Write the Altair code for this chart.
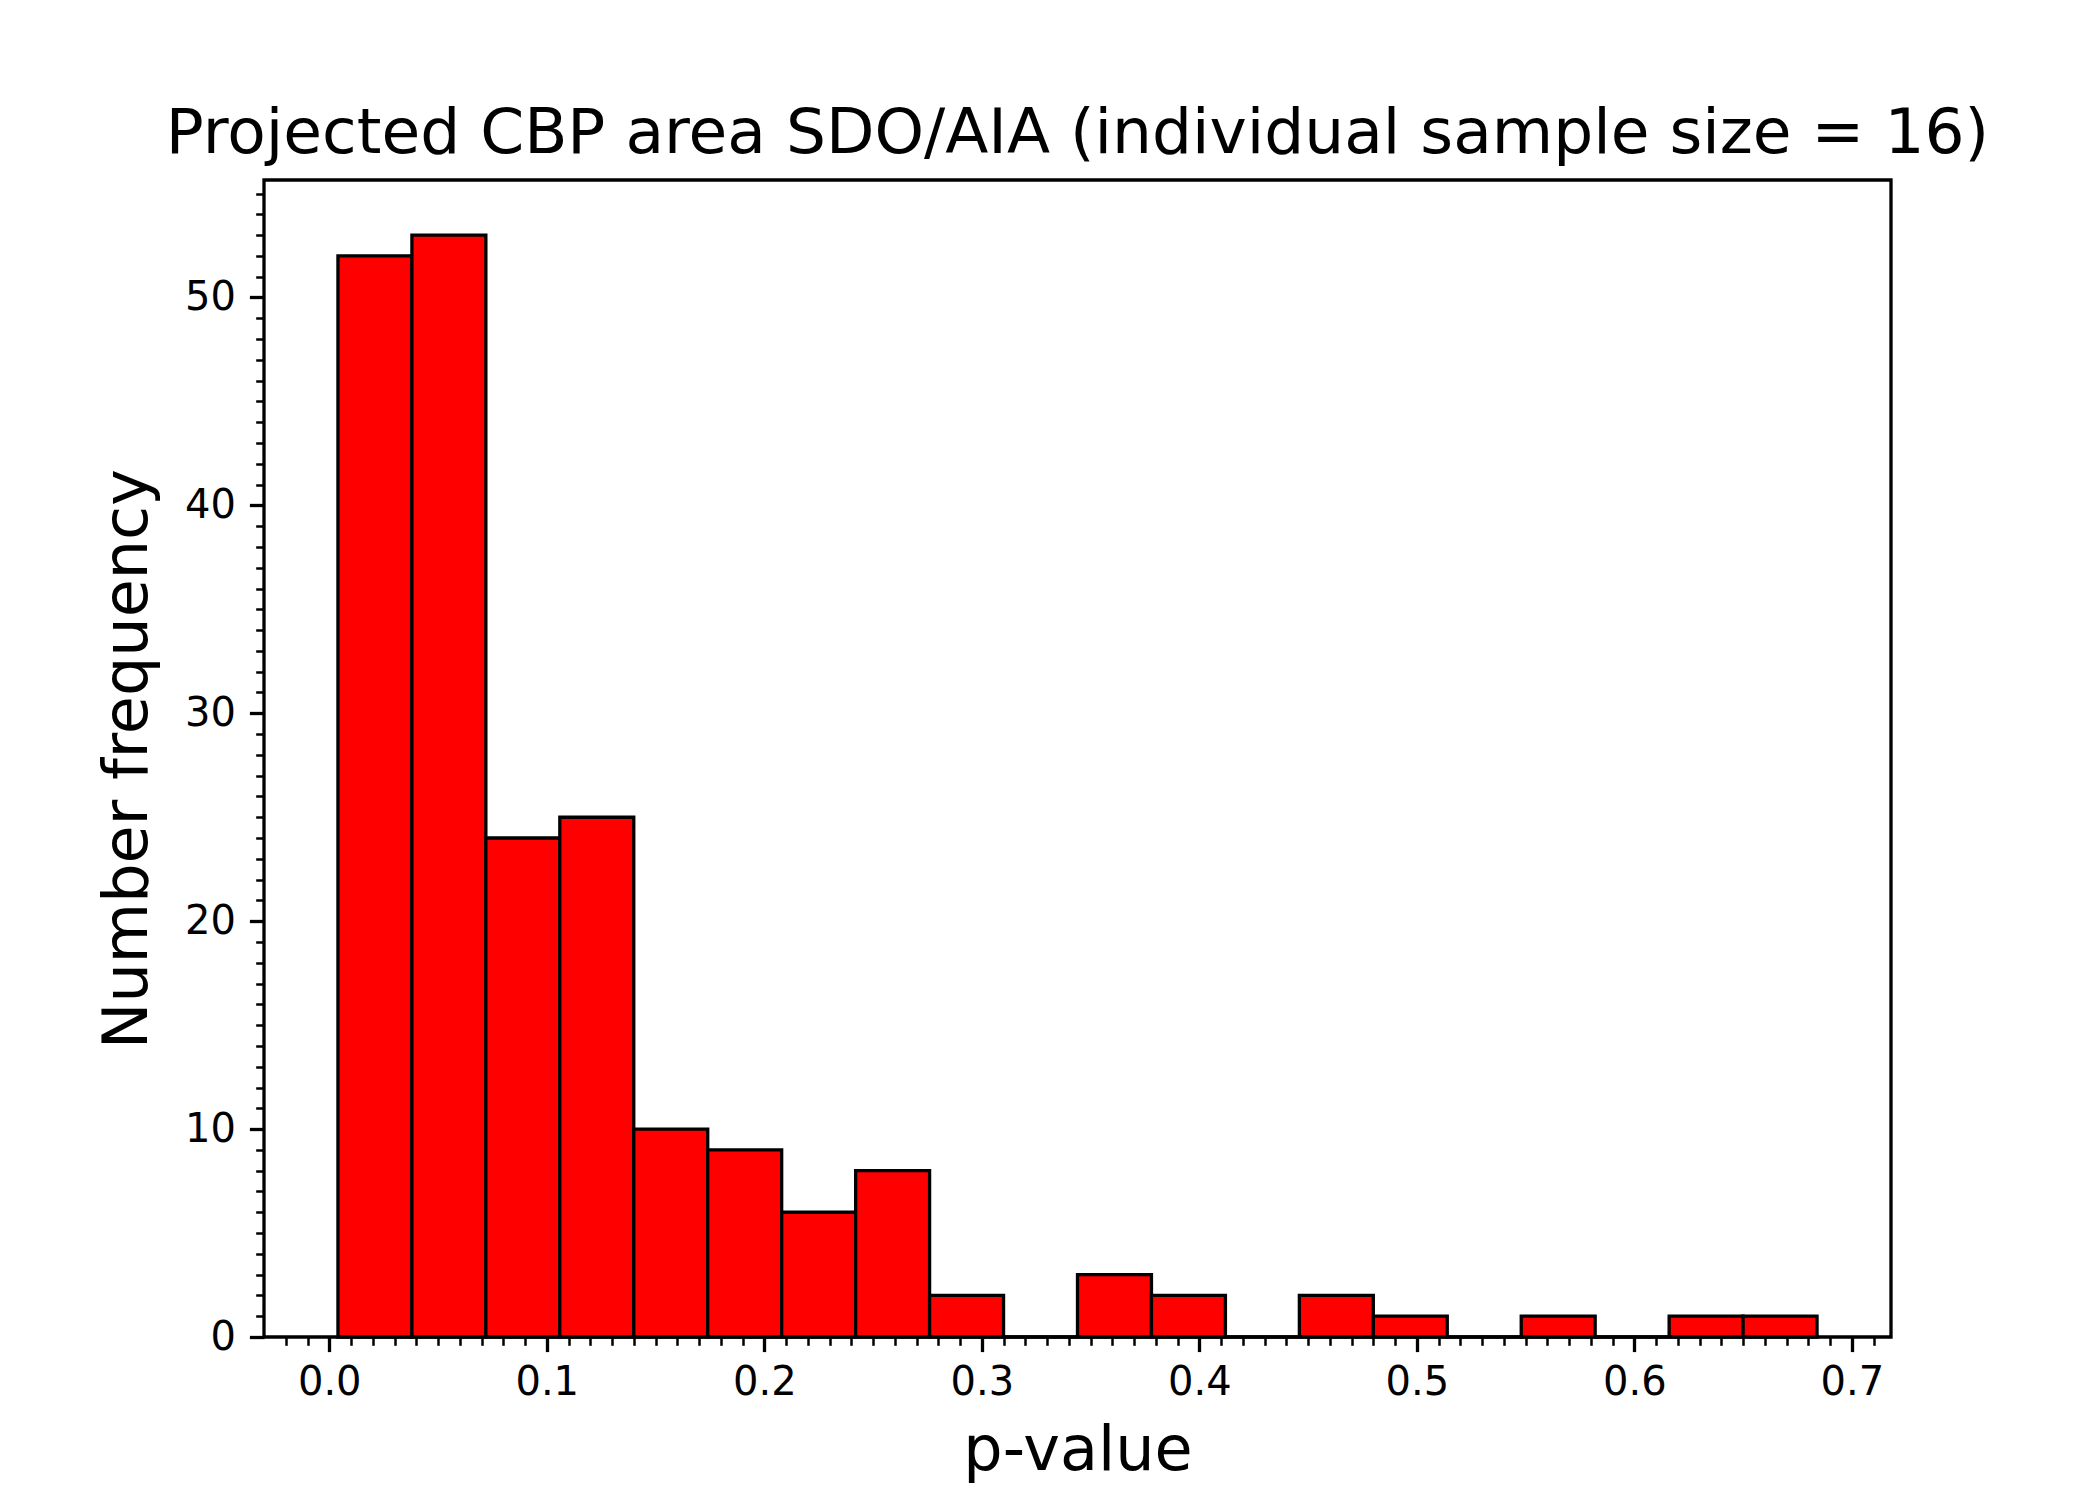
import altair as alt
import pandas as pd

# Histogram bin edges (p-value) and counts
bin_edges = [0.004, 0.038, 0.072, 0.106, 0.140, 0.174, 0.208, 0.242, 0.276, 0.310,
             0.344, 0.378, 0.412, 0.446, 0.480, 0.514, 0.548, 0.582, 0.616, 0.650, 0.684]
counts = [52, 53, 24, 25, 10, 9, 6, 8, 2, 0, 3, 2, 0, 2, 1, 0, 1, 0, 1, 1]

x_major = [0.0, 0.1, 0.2, 0.3, 0.4, 0.5, 0.6, 0.7]
x_minor = [round(i * 0.01, 2) for i in range(-2, 72)]
y_major = [0, 10, 20, 30, 40, 50]
y_minor = list(range(0, 56))

df = pd.DataFrame({
    "bin_start": bin_edges[:-1],
    "bin_end": bin_edges[1:],
    "count": counts,
})

FONT = "DejaVu Sans"
x_scale = alt.Scale(domain=[-0.030, 0.718], nice=False, zero=False)
y_scale = alt.Scale(domain=[0, 55.65], nice=False)

major = alt.Chart(df).mark_rect(
    color="#ff0000", stroke="black", strokeWidth=3.3
).encode(
    x=alt.X("bin_start:Q", scale=x_scale,
            axis=alt.Axis(values=x_major, format=".1f", orient="bottom",
                          tickSize=14.6, tickWidth=3.3, labelPadding=11,
                          title="p-value", titleFontSize=62, titleY=132,
                          titleBaseline="alphabetic", domain=False, grid=False)),
    x2="bin_end:Q",
    y=alt.Y("count:Q", scale=y_scale,
            axis=alt.Axis(values=y_major, format="d", orient="left",
                          tickSize=14.6, tickWidth=3.3, labelPadding=14,
                          title="Number frequency", titleFontSize=62,
                          titleX=-118, titleBaseline="alphabetic",
                          domain=False, grid=False)),
    y2=alt.datum(0),
)

minor = alt.Chart(df).mark_rect(opacity=0).encode(
    x=alt.X("bin_start:Q", scale=x_scale,
            axis=alt.Axis(values=x_minor, labels=False, orient="bottom",
                          tickSize=8.3, tickWidth=2.5, title=None,
                          domain=False, grid=False)),
    x2="bin_end:Q",
    y=alt.Y("count:Q", scale=y_scale,
            axis=alt.Axis(values=y_minor, labels=False, orient="left",
                          tickSize=8.3, tickWidth=2.5, title=None,
                          domain=False, grid=False)),
    y2=alt.datum(0),
)

chart = alt.layer(minor, major).resolve_axis(
    x="independent", y="independent"
).properties(
    width=1627,
    height=1157,
    background="white",
    padding={"left": 256, "top": 172, "right": 200, "bottom": 150},
    autosize=alt.AutoSizeParams(type="none"),
    title=alt.TitleParams(
        "Projected CBP area SDO/AIA (individual sample size = 16)",
        font=FONT, fontSize=63, fontWeight="normal", color="black",
        anchor="middle", frame="group", baseline="alphabetic", offset=-36,
    ),
).configure_view(
    stroke="black", strokeWidth=3.3
).configure_axis(
    labelFont=FONT, titleFont=FONT, labelFontSize=40, labelColor="black",
    titleColor="black", titleFontWeight="normal", tickColor="black",
)

chart.save("out.html", embed_options={"renderer": "svg", "actions": False})
